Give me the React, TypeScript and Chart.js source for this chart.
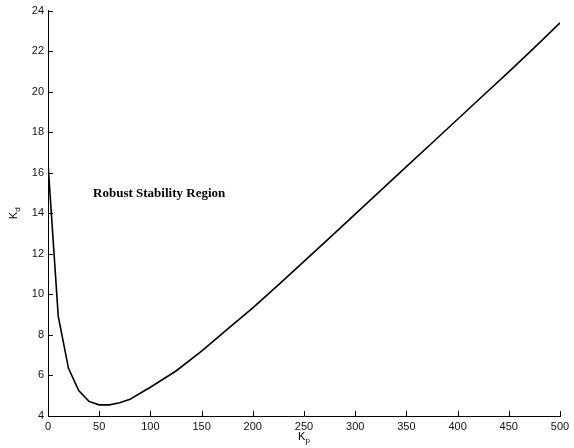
import React, { useEffect, useRef } from "react";
import { Chart, registerables } from "chart.js";

Chart.register(...registerables);

const kp = [0, 10, 20, 30, 40, 50, 60, 70, 80, 90, 100, 125, 150, 175, 200, 225, 250, 275, 300, 325, 350, 375, 400, 425, 450, 475, 500];
const kd = [16.45, 8.93, 6.35, 5.25, 4.72, 4.55, 4.55, 4.65, 4.82, 5.12, 5.42, 6.22, 7.2, 8.27, 9.33, 10.47, 11.63, 12.79, 13.96, 15.13, 16.3, 17.47, 18.64, 19.81, 20.98, 22.17, 23.4];
const xTicks = [0, 50, 100, 150, 200, 250, 300, 350, 400, 450, 500];
const yTicks = [4, 6, 8, 10, 12, 14, 16, 18, 20, 22, 24];
const annotation = { text: "Robust Stability Region", x: 44, y: 14.98 };

const overlay = {
  id: "overlay",
  afterDraw(chart: any) {
    const ctx = chart.ctx;
    const xs = chart.scales.x;
    const ys = chart.scales.y;
    const area = chart.chartArea;
    ctx.save();
    ctx.strokeStyle = "#000";
    ctx.lineWidth = 1;
    ctx.beginPath();
    for (const t of xTicks) {
      const px = Math.round(xs.getPixelForValue(t)) + 0.5;
      ctx.moveTo(px, area.bottom);
      ctx.lineTo(px, area.bottom - 5);
    }
    for (const t of yTicks) {
      const py = Math.round(ys.getPixelForValue(t)) + 0.5;
      ctx.moveTo(area.left, py);
      ctx.lineTo(area.left + 5, py);
    }
    ctx.stroke();

    // annotation
    ctx.fillStyle = "#000";
    ctx.font = "bold 13px 'Liberation Serif', 'Times New Roman', serif";
    ctx.textAlign = "left";
    ctx.textBaseline = "middle";
    ctx.fillText(annotation.text, xs.getPixelForValue(annotation.x), ys.getPixelForValue(annotation.y));

    // axis titles
    const drawSub = (main: string, sub: string, cx: number, cy: number) => {
      ctx.font = "11px 'Liberation Sans', Arial, sans-serif";
      const w1 = ctx.measureText(main).width;
      ctx.font = "8px 'Liberation Sans', Arial, sans-serif";
      const w2 = ctx.measureText(sub).width;
      const start = cx - (w1 + w2) / 2;
      ctx.textAlign = "left";
      ctx.textBaseline = "middle";
      ctx.font = "11px 'Liberation Sans', Arial, sans-serif";
      ctx.fillText(main, start, cy);
      ctx.font = "8px 'Liberation Sans', Arial, sans-serif";
      ctx.fillText(sub, start + w1, cy + 4);
    };
    drawSub("K", "p", (area.left + area.right) / 2, 437);
    ctx.save();
    ctx.translate(14, (area.top + area.bottom) / 2);
    ctx.rotate(-Math.PI / 2);
    drawSub("K", "d", 0, 0);
    ctx.restore();
    ctx.restore();
  },
};

export default function App() {
  const ref = useRef<HTMLCanvasElement | null>(null);
  useEffect(() => {
    document.body.style.margin = "0";
    const chart = new Chart(ref.current as HTMLCanvasElement, {
      type: "line",
      data: {
        datasets: [
          {
            data: kp.map((x, i) => ({ x, y: kd[i] })),
            borderColor: "#000",
            borderWidth: 1.6,
            pointRadius: 0,
            tension: 0,
            fill: false,
          },
        ],
      },
      options: {
        animation: false,
        responsive: false,
        maintainAspectRatio: false,
        layout: { padding: { top: 10, right: 14, left: 0, bottom: 0 } },
        plugins: { legend: { display: false }, tooltip: { enabled: false } },
        scales: {
          x: {
            type: "linear",
            min: 0,
            max: 500,
            afterBuildTicks: (s: any) => {
              s.ticks = xTicks.map((v) => ({ value: v }));
            },
            afterFit: (s: any) => {
              s.height = 32;
            },
            grid: { display: true, drawOnChartArea: false, drawTicks: false },
            border: { display: true, color: "#000", width: 1 },
            ticks: {
              color: "#111",
              padding: 4,
              maxRotation: 0,
              font: { family: "'Liberation Sans', Arial, sans-serif", size: 11 },
            },
          },
          y: {
            type: "linear",
            min: 4,
            max: 24,
            afterBuildTicks: (s: any) => {
              s.ticks = yTicks.map((v) => ({ value: v }));
            },
            afterFit: (s: any) => {
              s.width = 48;
            },
            grid: { display: true, drawOnChartArea: false, drawTicks: false },
            border: { display: true, color: "#000", width: 1 },
            ticks: {
              color: "#111",
              padding: 4,
              font: { family: "'Liberation Sans', Arial, sans-serif", size: 11 },
            },
          },
        },
      },
      plugins: [overlay],
    });
    return () => chart.destroy();
  }, []);
  return (
    <div style={{ position: "absolute", left: 0, top: 0, width: 574, height: 448, background: "#fff" }}>
      <canvas ref={ref} width={574} height={448} style={{ width: 574, height: 448 }} />
    </div>
  );
}
